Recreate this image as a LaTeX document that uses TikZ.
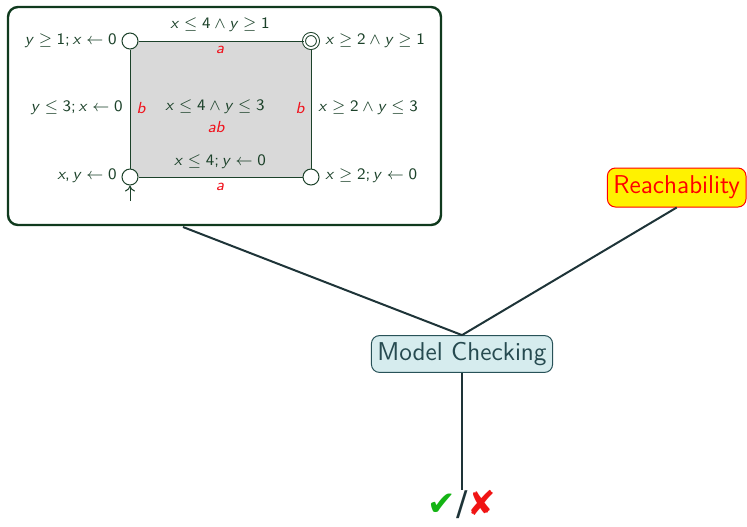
\documentclass[tikz,border=0pt]{standalone}
\usepackage{fontspec}
\newfontfamily\dejavu{DejaVu Sans}
\usetikzlibrary{arrows.meta,backgrounds}
\definecolor{autc}{RGB}{28,66,42}
\definecolor{boxc}{RGB}{16,58,30}
\definecolor{linec}{RGB}{30,52,56}
\definecolor{mcfill}{RGB}{214,236,238}
\definecolor{mcdraw}{RGB}{40,82,88}
\definecolor{mctext}{RGB}{38,74,80}
\definecolor{ckgreen}{RGB}{20,180,20}
\definecolor{ckred}{RGB}{240,20,20}
\definecolor{labred}{RGB}{240,20,30}
\newcommand\vx{\textit{x}}
\newcommand\vy{\textit{y}}
\newcommand\mle{${}\leq{}$}
\newcommand\mge{${}\geq{}$}
\newcommand\mand{${}\wedge{}$}
\newcommand\mgets{${}\leftarrow{}$}
\tikzset{
  state/.style={circle, draw=autc, fill=white, line width=0.5pt, minimum size=8pt, inner sep=0pt},
  accstate/.style={state, double=white, double distance=1pt, minimum size=7pt},
  lab/.style={text=autc, font=\sffamily\fontsize{8}{9.5}\selectfont, inner sep=0pt},
  act/.style={text=labred, font=\sffamily\itshape\fontsize{8}{9.5}\selectfont, inner sep=0pt},
  edge/.style={draw=autc, line width=0.5pt},
  conn/.style={draw=linec, line width=1pt},
  bignode/.style={rounded corners=4pt, font=\sffamily\fontsize{12.9}{15}\selectfont, inner xsep=3pt, minimum height=18pt, line width=0.5pt}
}
\begin{document}
\begin{tikzpicture}[x=0.5pt,y=-0.5pt]
\useasboundingbox (0,0) rectangle (747,526);
% automaton container
\node[draw=boxc, line width=1.2pt, rounded corners=5pt, minimum width=216.5pt, minimum height=109pt, inner sep=0pt] (autbox) at (224.5,116) {};
% states
\node[state] (s1) at (130,41) {};
\node[accstate] (s2) at (311,41) {};
\node[state] (s3) at (311,177) {};
\node[state] (s0) at (130,177) {};
\begin{scope}[on background layer]
\fill[gray!30] (s1.center) rectangle (s3.center);
\end{scope}
\draw[edge] (s1) -- (s2);
\draw[edge] (s2) -- (s3);
\draw[edge] (s3) -- (s0);
\draw[edge] (s0) -- (s1);
\coordinate (init) at (130,201);
\draw[edge,-{To[length=3pt,width=5pt]}] (init) -- (s0);
% state labels
\node[lab,anchor=east] (l1) at (117,41) {\vy\mge1;\,\vx\mgets0};
\node[lab,anchor=west] (l2) at (325,41) {\vx\mge2\mand\vy\mge1};
\node[lab,anchor=east] (l0) at (117,176) {\vx,\,\vy\mgets0};
\node[lab,anchor=west] (l3) at (325,176) {\vx\mge2;\,\vy\mgets0};
% edge labels
\node[lab] (e1) at (220,25) {\vx\mle4\mand\vy\mge1};
\node[act] (a1) at (220,50) {a};
\node[lab,anchor=east] (e2) at (123,108) {\vy\mle3;\,\vx\mgets0};
\node[act] (b1) at (141,108) {b};
\node[lab] (inv) at (215,107) {\vx\mle4\mand\vy\mle3};
\node[act] (ab) at (216,127) {ab};
\node[act] (b2) at (300,108) {b};
\node[lab,anchor=west] (e3) at (318,108) {\vx\mge2\mand\vy\mle3};
\node[lab] (e4) at (220,162) {\vx\mle4;\,\vy\mgets0};
\node[act] (a2) at (220,187) {a};
% main nodes
\node[bignode, draw=mcdraw, fill=mcfill, text=mctext] (mc) at (462,354) {Model Checking};
\node[bignode, draw=red, fill=yellow, text=red, minimum height=19.5pt, anchor=east] (reach) at (746.5,187.5) {Reachability};
\node[inner sep=0pt, font=\dejavu\fontsize{17}{19}\selectfont, anchor=north] (chk) at (462,490) {\textcolor{ckgreen}{✔}\textcolor{linec}{/}\textcolor{ckred}{✘}};
% connectors
\coordinate (abot) at (183,227);
\draw[conn] (abot) -- (mc.north);
\draw[conn] (reach.south) -- (mc.north);
\draw[conn] (mc.south) -- (chk.north);
\end{tikzpicture}
\end{document}
